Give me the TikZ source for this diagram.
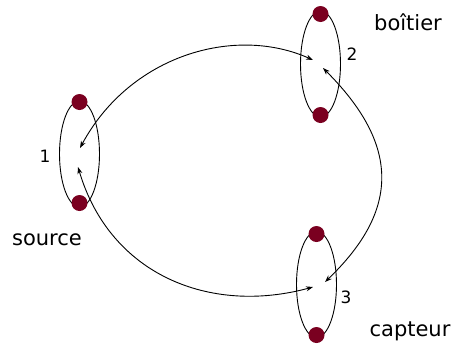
\documentclass[tikz,border=0pt]{standalone}
\usepackage{fontspec}
\setmainfont{DejaVu Sans}
\usetikzlibrary{shapes.geometric,arrows.meta}
\definecolor{dotred}{RGB}{122,0,32}
\begin{document}
\begin{tikzpicture}[x=1pt,y=-1pt,
  ring/.style={draw,line width=0.9pt,ellipse,minimum width=40pt,minimum height=106pt,inner sep=0pt},
  pin/.style={circle,fill=dotred,draw=none,minimum size=16pt,inner sep=0pt},
  lbl/.style={font=\fontsize{21}{25}\selectfont,inner sep=0pt},
  num/.style={font=\fontsize{17}{20}\selectfont,inner sep=0pt},
  link/.style={line width=0.9pt,{Stealth[length=7pt,width=5pt]}-{Stealth[length=7pt,width=5pt]}}]
\useasboundingbox (0,0) rectangle (452,346);
% ellipses
\node[ring] (e1) at (79.5,154) {};
\node[ring] (e2) at (320.5,64) {};
\node[ring] (e3) at (316.5,284.5) {};
% dots
\node[pin] (d1a) at (79.5,102) {};
\node[pin] (d1b) at (79.5,203) {};
\node[pin] (d2a) at (320.5,14) {};
\node[pin] (d2b) at (320.5,115) {};
\node[pin] (d3a) at (316.5,234) {};
\node[pin] (d3b) at (316.5,335) {};
% labels
\node[num] (n1) at (45,156) {1};
\node[num] (n2) at (352,54) {2};
\node[num] (n3) at (346,297) {3};
\node[lbl] (t1) at (47,240) {source};
\node[lbl] (t2) at (408,22) {boîtier};
\node[lbl] (t3) at (410,331) {capteur};
% arrow end points
\coordinate (a1) at (80,148);
\coordinate (a2) at (313,60);
\coordinate (b2) at (323,68);
\coordinate (b3) at (325,282);
\coordinate (c1) at (78,167);
\coordinate (c3) at (313,287);
% connectors
\draw[link] (a1) .. controls (130,55) and (235,25) .. (a2);
\draw[link] (b2) .. controls (400,145) and (400,210) .. (b3);
\draw[link] (c1) .. controls (110,275) and (210,315) .. (c3);
\end{tikzpicture}
\end{document}
